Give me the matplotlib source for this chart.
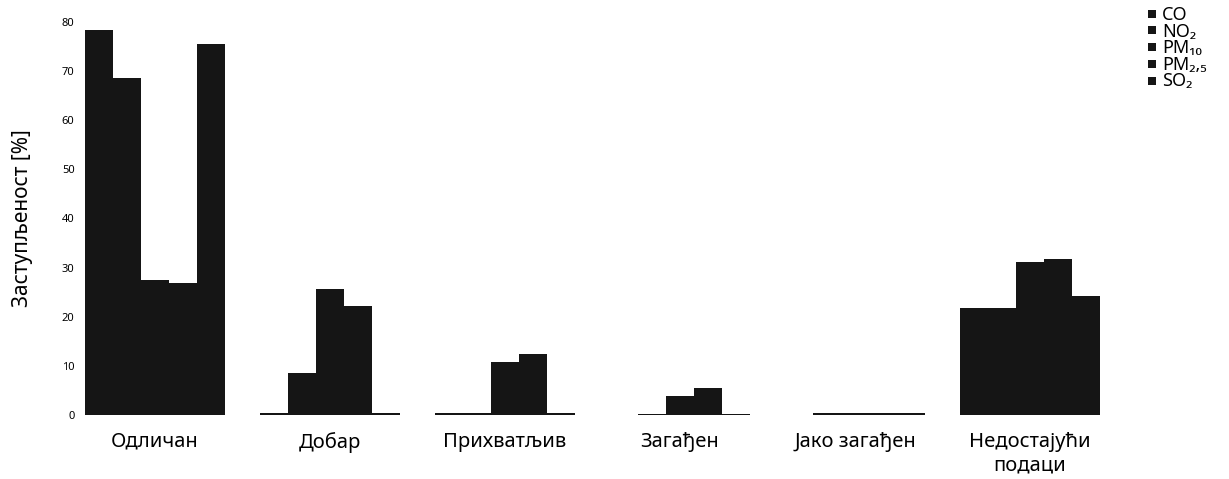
import matplotlib
matplotlib.use("Agg")
import matplotlib.pyplot as plt
from matplotlib.patches import Rectangle
import numpy as np

categories = ["Одличан", "Добар", "Прихватљив", "Загађен", "Јако загађен", "Недостајући\nподаци"]
series_names = ["CO", "NO₂", "PM₁₀", "PM₂,₅", "SO₂"]
co = [78.3, 0.4, 0.4, 0.0, 0.0, 21.7]
no2 = [68.7, 8.6, 0.4, 0.3, 0.4, 21.8]
pm10 = [27.4, 25.6, 10.8, 3.9, 0.4, 31.2]
pm25 = [26.9, 22.2, 12.4, 5.5, 0.4, 31.8]
so2 = [75.6, 0.4, 0.4, 0.3, 0.4, 24.2]
series = [co, no2, pm10, pm25, so2]
yticks = [0, 10, 20, 30, 40, 50, 60, 70, 80]

plt.rcParams['font.family'] = ['Noto Sans', 'DejaVu Sans']

W, H = 1229, 479
fig = plt.figure(figsize=(W / 100, H / 100), dpi=100)
left_px, right_px = 80, 1110
bottom_px, top_px = 415, 22
ax = fig.add_axes([left_px / W, (H - bottom_px) / H,
                   (right_px - left_px) / W, (bottom_px - top_px) / H])

x = np.arange(len(categories))
bw = 0.16
color = '#151515'
for i, (name, vals) in enumerate(zip(series_names, series)):
    ax.bar(x + (i - 2) * bw, vals, width=bw, color=color, label=name,
           edgecolor='none')

c0 = 155
spacing = 175.0
ax.set_xlim((left_px - c0) / spacing, (right_px - c0) / spacing)
ax.set_ylim(0, 80)
ax.set_yticks(yticks)
ax.set_yticklabels([str(t) for t in yticks], fontsize=8, fontweight='bold')
ax.set_xticks(x)
ax.set_xticklabels(categories, fontsize=14.5, linespacing=1.25)
ax.tick_params(axis='both', length=0)
ax.tick_params(axis='y', pad=4)
ax.tick_params(axis='x', pad=12)
for s in ax.spines.values():
    s.set_visible(False)
ax.set_ylabel("Заступљеност [%]", fontsize=15)
ax.yaxis.set_label_coords((33 - left_px) / (right_px - left_px), 0.5)

# legend as one multi-line text block with squares beside each row
leg_text = fig.text(1162 / W, 1 - 6 / H, "\n".join(series_names), fontsize=13,
                    va='top', ha='left', linespacing=0.9)
fig.canvas.draw()
bb = leg_text.get_window_extent()
n = len(series_names)
pitch = bb.height / n
sq = 8
for i in range(n):
    yc = bb.y1 - (i + 0.45) * pitch
    fig.patches.append(Rectangle((1148 / W, (yc - sq / 2) / H), sq / W, sq / H,
                                 transform=fig.transFigure, facecolor=color,
                                 edgecolor='none'))

fig.savefig("out.png", dpi=100, facecolor='white')
